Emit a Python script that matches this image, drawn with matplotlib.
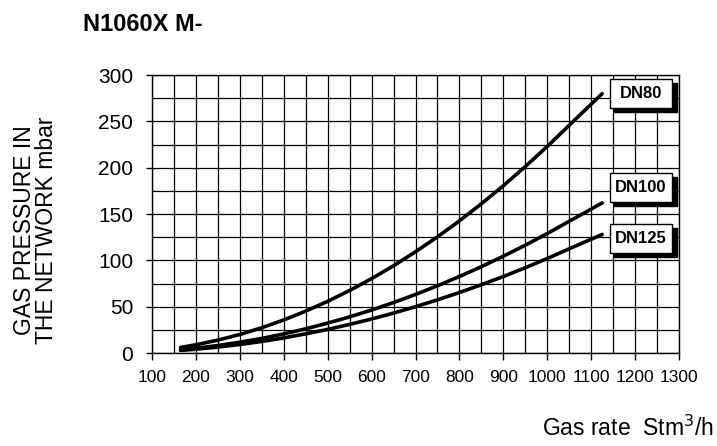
import matplotlib
matplotlib.use("Agg")
import matplotlib.pyplot as plt
from matplotlib.patches import Rectangle

plt.rcParams['font.family'] = ['Liberation Sans', 'DejaVu Sans']

# values
flow = [165, 200, 250, 300, 350, 400, 450, 500, 550, 600, 650, 700, 750, 800,
        850, 900, 950, 1000, 1050, 1125]
dn80 = [6, 8.9, 13.9, 20, 27.3, 35.7, 45.2, 55.8, 67.5, 80.3, 94.2, 109.3, 125.4,
        142.7, 161.1, 180.6, 201.3, 223, 245.9, 280]
dn100 = [3.5, 5.2, 8.1, 11.6, 15.8, 20.6, 26.1, 32.3, 39, 46.4, 54.5, 63.2, 72.6,
         82.6, 93.2, 104.5, 116.4, 129, 142.2, 162]
dn125 = [2.8, 4.1, 6.4, 9.2, 12.5, 16.3, 20.7, 25.5, 30.9, 36.7, 43.1, 50, 57.4,
         65.3, 73.7, 82.6, 92.1, 102, 112.5, 128]
labels = ["DN80", "DN100", "DN125"]
label_y = [280, 179, 124]

x_ticks = list(range(100, 1301, 100))
y_ticks = list(range(0, 301, 50))

fig = plt.figure(figsize=(7.17, 4.46), dpi=100)
ax = fig.add_axes([0.212, 0.2085, 0.735, 0.623])

ax.set_xlim(100, 1300)
ax.set_ylim(0, 300)
ax.set_xticks(x_ticks)
ax.set_yticks(y_ticks)
ax.set_xticks(range(100, 1301, 50), minor=True)
ax.set_yticks(range(0, 301, 25), minor=True)
ax.grid(which="both", color="k", linewidth=0.9)
ax.tick_params(axis="x", which="major", length=5, width=1, labelsize=12.5, pad=7)
ax.tick_params(axis="y", which="major", length=4.5, width=1, labelsize=15, pad=9)
ax.tick_params(which="minor", length=0)
for s in ax.spines.values():
    s.set_linewidth(1.0)

for ys in (dn80, dn100, dn125):
    ax.plot(flow, ys, color="k", lw=2.6, solid_capstyle="round", solid_joinstyle="round")

# label boxes with a drop shadow
bx, bw, bh = 1142, 143, 31
for lab, ly in zip(labels, label_y):
    ax.add_patch(Rectangle((bx + 11, ly - bh / 2 - 4.5), bw, bh, fc="k", ec="k",
                           zorder=4, clip_on=False))
    ax.add_patch(Rectangle((bx, ly - bh / 2), bw, bh, fc="white", ec="k", lw=1.0,
                           zorder=5, clip_on=False))
    ax.text(bx + bw / 2, ly, lab, ha="center", va="center", fontsize=12,
            fontweight="bold", zorder=6)

fig.text(0.049, 0.484, "GAS PRESSURE IN\nTHE NETWORK mbar", fontsize=16.5, rotation=90,
         ha="center", va="center", linespacing=0.95)
fig.text(0.116, 0.946, "N1060X M-", fontsize=17, fontweight="bold", ha="left", va="center")
fig.text(0.996, 0.04, "Gas rate  Stm$^3$/h", fontsize=16.5, ha="right", va="center")

fig.savefig("out.png", dpi=100)
